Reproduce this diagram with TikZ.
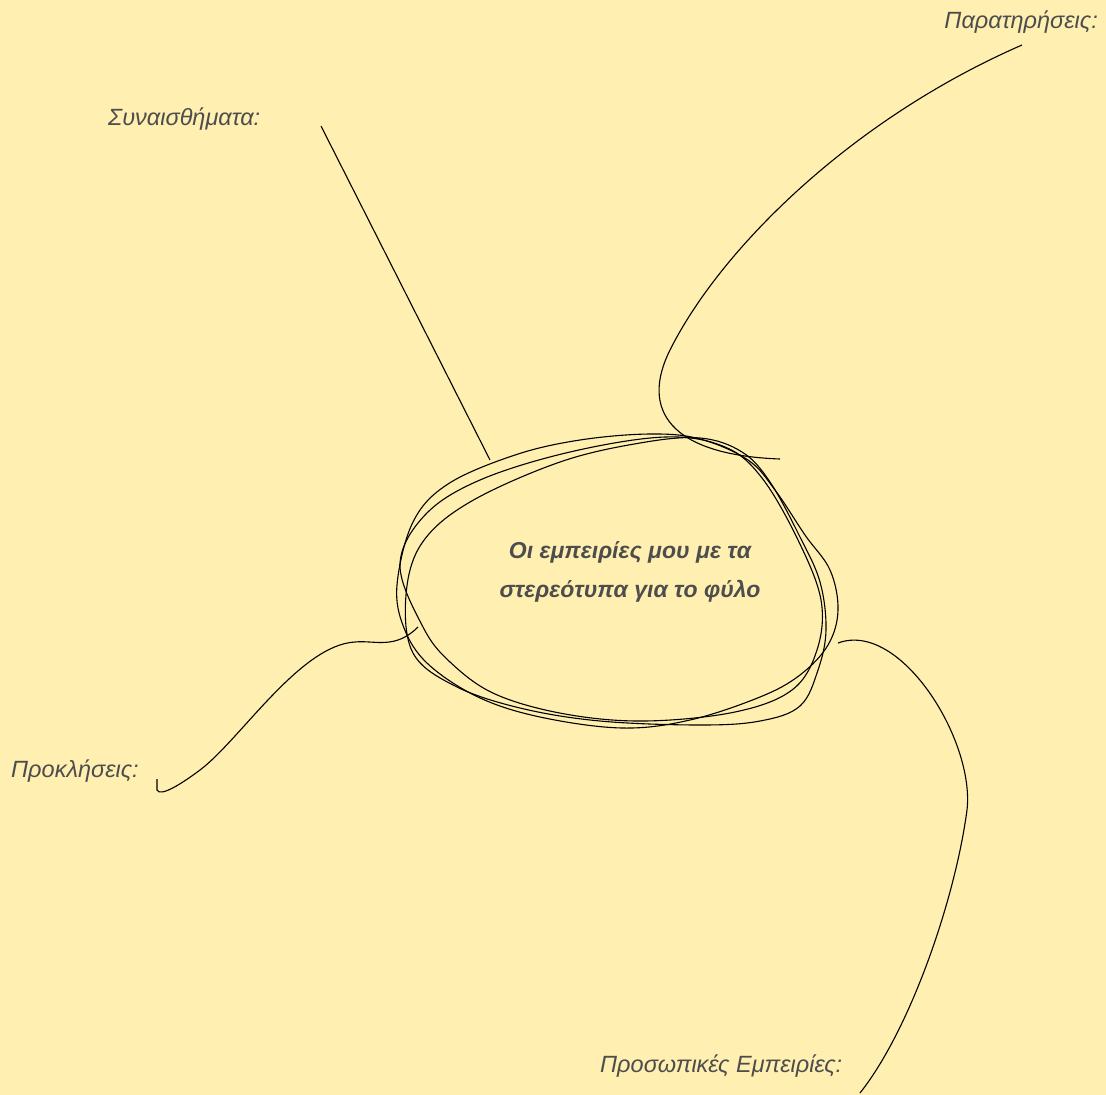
\documentclass[tikz,border=0pt]{standalone}
\usepackage{fontspec}
\setmainfont{Liberation Sans}
\definecolor{paper}{HTML}{FFEFB0}
\definecolor{ink}{HTML}{4D4D4D}
\tikzset{
  labeltext/.style={text=ink, inner sep=0pt, font=\fontsize{23.5}{28}\selectfont\itshape},
  topictext/.style={text=ink, inner sep=0pt, align=center, font=\fontsize{23}{39}\selectfont\bfseries\itshape},
  pen/.style={line width=1.1pt, black},
}
\begin{document}
\begin{tikzpicture}[x=1pt,y=-1pt]
% paper
\fill[paper] (0,0) rectangle (1106,1095);
\useasboundingbox (0,0) rectangle (1106,1095);

% labels
\node (obs) [labeltext, anchor=base east] at (1098,28) {Παρατηρήσεις:};
\node (feel) [labeltext, anchor=base west] at (108,125) {Συναισθήματα:};
\node (chal) [labeltext, anchor=base west] at (11,777) {Προκλήσεις:};
\node (exp) [labeltext, anchor=base west] at (600,1072) {Προσωπικές Εμπειρίες:};
\node (topic) [topictext] at (630,572) {Οι εμπειρίες μου με τα\\στερεότυπα για το φύλο};

% scribbled loops round the topic
\draw [pen] plot [smooth cycle, tension=0.6] coordinates {
  (397,585) (413,522) (448,484) (515,455) (580,440) (650,434) (700,439)
  (748,460) (775,490) (805,535) (830,570) (838,610) (828,645) (800,675)
  (760,697) (690,720) (622,728) (540,717) (478,697) (428,664) (404,628)};
\draw [pen] plot [smooth cycle, tension=0.6] coordinates {
  (406,595) (422,543) (470,502) (560,462) (640,443) (700,438) (742,452)
  (770,482) (800,537) (820,582) (826,630) (818,670) (800,706) (760,721)
  (700,725) (600,721) (520,708) (455,686) (413,653)};
\draw [pen] plot [smooth cycle, tension=0.6] coordinates {
  (400,565) (425,515) (480,480) (570,452) (665,437) (725,447) (762,478)
  (798,540) (821,600) (817,650) (792,690) (735,712) (645,721) (565,714)
  (495,694) (450,662) (423,627)};

% free ends of the strokes
\coordinate (obs-a) at (1022,45);
\coordinate (obs-b) at (780,459);
\coordinate (feel-a) at (321,126);
\coordinate (feel-b) at (490,460);
\coordinate (chal-a) at (418,627);
\coordinate (chal-b) at (157,779);
\coordinate (exp-a) at (838,643);
\coordinate (exp-b) at (860,1093);

% strokes
\draw [pen] (obs-a) .. controls (850,120) and (720,250) .. (670,350)
  .. controls (640,410) and (670,455) .. (obs-b);
\draw [pen] (feel-a) -- (feel-b);
\draw [pen] (chal-a) .. controls (395,650) and (375,640) .. (355,642)
  .. controls (300,645) and (240,740) .. (200,770)
  .. controls (180,785) and (160,797) .. (157,790) -- (chal-b);
\draw [pen] (exp-a) .. controls (900,620) and (975,740) .. (967,810)
  .. controls (955,900) and (910,1030) .. (exp-b);
\end{tikzpicture}
\end{document}
